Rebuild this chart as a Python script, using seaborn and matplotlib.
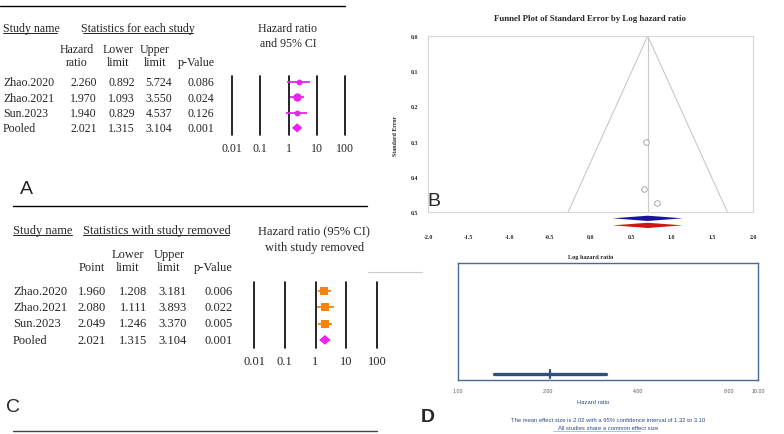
import numpy as np
import pandas as pd
import matplotlib.pyplot as plt
import seaborn as sns
from matplotlib.lines import Line2D

# ---- data ----
studies = ["Zhao.2020", "Zhao.2021", "Sun.2023", "Pooled"]
hr = [2.260, 1.970, 1.940, 2.021]
hr_lower = [0.892, 1.093, 0.829, 1.315]
hr_upper = [5.724, 3.550, 4.537, 3.104]
hr_p = [0.086, 0.024, 0.126, 0.001]

rm_point = [1.960, 2.080, 2.049, 2.021]
rm_lower = [1.208, 1.111, 1.246, 1.315]
rm_upper = [3.181, 3.893, 3.370, 3.104]
rm_p = [0.006, 0.022, 0.005, 0.001]

forest_ticks = [0.01, 0.1, 1, 10, 100]
forest_labels = ["0.01", "0.1", "1", "10", "100"]

funnel_log_hr = [0.815, 0.678, 0.663]
funnel_se = [0.474, 0.300, 0.434]
pooled_log = 0.704
pooled_log_ci = [0.274, 1.133]
funnel_xticks = [-2.0, -1.5, -1.0, -0.5, 0.0, 0.5, 1.0, 1.5, 2.0]
funnel_yticks = [0.0, 0.1, 0.2, 0.3, 0.4, 0.5]

mean_hr = 2.02
mean_ci = [1.315, 3.104]
d_ticks = [1, 2, 4, 8, 10]

MAGENTA = "#ee22ee"
ORANGE = "#f5840f"
NAVY = "#2f4f7f"

sns.set_style("white")
plt.rcParams["font.family"] = ["Liberation Serif", "DejaVu Serif"]

W, H = 784, 435
fig = plt.figure(figsize=(W / 100, H / 100), dpi=100)


def txt(x, y, s, **kw):
    kw.setdefault("va", "center")
    return fig.text(x / W, 1 - y / H, s, **kw)


def hline(x0, x1, y, **kw):
    fig.add_artist(Line2D([x0 / W, x1 / W], [1 - y / H, 1 - y / H], **kw))


def axes_px(left, top, right, bottom):
    return fig.add_axes([left / W, 1 - bottom / H, (right - left) / W, (bottom - top) / H])


def forest(ax, pts, lo, hi, color, marker, areas, row0, step, top, bottom):
    # rows: 0..n-1, map pixel geometry to row units
    ax.set_xscale("log")
    ax.set_xlim(0.01, 100)
    ax.set_ylim(3 + (bottom - row0 - 3 * step) / step, -(row0 - top) / step)
    for t in forest_ticks:
        ax.axvline(t, color="black", lw=1.2, clip_on=False)
    df = pd.DataFrame({"pt": pts[:3], "lo": lo[:3], "hi": hi[:3], "row": [0, 1, 2]})
    ax.hlines(df["row"], df["lo"], df["hi"], color=color, lw=1.3, zorder=3)
    for i, r in df.iterrows():
        sns.scatterplot(x=[r["pt"]], y=[r["row"]], ax=ax, color=color, marker=marker,
                        s=areas[i], linewidth=0, zorder=4, legend=False)
    # pooled diamond spanning its CI
    h = 0.3
    ax.fill([lo[3], pts[3], hi[3], pts[3]], [3, 3 - h, 3, 3 + h], color=MAGENTA, lw=0, zorder=4)
    ax.set_xticks(forest_ticks)
    ax.set_xticklabels(forest_labels)
    ax.minorticks_off()
    ax.set_yticks([])
    ax.tick_params(axis="x", length=0, pad=5, labelsize=9)
    for s in ax.spines.values():
        s.set_visible(False)
    ax.patch.set_alpha(0)


# ================= Panel A =================
hline(0, 345, 7, color="black", lw=1.0)
fsA = 8.6
txt(3, 29, "Study name", fontsize=fsA)
hline(3, 57, 34, color="black", lw=0.6)
txt(138, 29, "Statistics for each study", fontsize=fsA, ha="center")
hline(83, 193, 34, color="black", lw=0.6)
txt(288, 29, "Hazard ratio", fontsize=fsA, ha="center")
txt(288, 44, "and 95% CI", fontsize=fsA, ha="center")
for cx, l1, l2 in [(77, "Hazard", "ratio"), (118, "Lower", "limit"), (155, "Upper", "limit")]:
    txt(cx, 50, l1, fontsize=fsA, ha="center")
    txt(cx, 63, l2, fontsize=fsA, ha="center")
txt(196, 63, "p-Value", fontsize=fsA, ha="center")
rowsA = [83, 99, 114, 129]
for i, name in enumerate(studies):
    y = rowsA[i]
    txt(3, y, name, fontsize=fsA)
    txt(97, y, f"{hr[i]:.3f}", fontsize=fsA, ha="right")
    txt(135, y, f"{hr_lower[i]:.3f}", fontsize=fsA, ha="right")
    txt(172, y, f"{hr_upper[i]:.3f}", fontsize=fsA, ha="right")
    txt(214, y, f"{hr_p[i]:.3f}", fontsize=fsA, ha="right")
axA = axes_px(232, 77, 345, 136)
forest(axA, hr, hr_lower, hr_upper, MAGENTA, "o", [18, 36, 18], 83, 15.3, 77, 136)
axA.tick_params(axis="x", labelsize=fsA)
txt(20, 190, "A", fontsize=14, family="Liberation Sans")

# ================= Panel C =================
hline(13, 367, 207, color="black", lw=1.0)
fsC = 9
txt(13, 231, "Study name", fontsize=fsC)
hline(13, 72, 236, color="black", lw=0.6)
txt(83, 231, "Statistics with study removed", fontsize=fsC)
hline(83, 229, 236, color="black", lw=0.6)
txt(258, 231, "Hazard ratio (95% CI)", fontsize=fsC)
txt(315, 248, "with study removed", fontsize=fsC, ha="center")
txt(128, 255, "Lower", fontsize=fsC, ha="center")
txt(169, 255, "Upper", fontsize=fsC, ha="center")
txt(92, 268, "Point", fontsize=fsC, ha="center")
txt(128, 268, "limit", fontsize=fsC, ha="center")
txt(169, 268, "limit", fontsize=fsC, ha="center")
txt(213, 268, "p-Value", fontsize=fsC, ha="center")
rowsC = [292, 308, 324, 341]
for i, name in enumerate(studies):
    y = rowsC[i]
    txt(13, y, name, fontsize=fsC)
    txt(106, y, f"{rm_point[i]:.3f}", fontsize=fsC, ha="right")
    txt(147, y, f"{rm_lower[i]:.3f}", fontsize=fsC, ha="right")
    txt(187, y, f"{rm_upper[i]:.3f}", fontsize=fsC, ha="right")
    txt(233, y, f"{rm_p[i]:.3f}", fontsize=fsC, ha="right")
axC = axes_px(254, 283, 377, 349)
forest(axC, rm_point, rm_lower, rm_upper, ORANGE, "s", [30, 30, 30], 292, 16.3, 283, 349)
axC.tick_params(axis="x", labelsize=fsC)
txt(13, 408, "C", fontsize=14, family="Liberation Sans", ha="center")
hline(13, 377, 432, color="#444444", lw=1.0)
hline(368, 422, 273, color="#cccccc", lw=0.8)

# ================= Panel B (funnel) =================
axB = axes_px(428, 37, 753, 213)
axB.set_xlim(-2, 2)
axB.set_ylim(0.5, 0)
se_edge = max(funnel_yticks)
axB.plot([pooled_log - 1.96 * se_edge, pooled_log, pooled_log + 1.96 * se_edge],
         [se_edge, 0, se_edge], color="#cfc6c6", lw=0.8)
axB.axvline(pooled_log, color="#cfc6c6", lw=0.8)
sns.scatterplot(x=funnel_log_hr, y=funnel_se, ax=axB, marker="o", s=16,
                facecolor="white", edgecolor="#9a9a9a", linewidth=0.6, legend=False, zorder=3)
dh = 0.0075
for yc, col in [(0.5 + 0.018, "#1515a0"), (0.5 + 0.038, "#d01515")]:
    axB.fill([pooled_log_ci[0], pooled_log, pooled_log_ci[1], pooled_log],
             [yc, yc - dh, yc, yc + dh], color=col, lw=0, clip_on=False)
axB.set_xticks(funnel_xticks)
axB.set_xticklabels([f"{t:.1f}" for t in funnel_xticks])
axB.set_yticks(funnel_yticks)
axB.set_yticklabels([f"{t:.1f}" for t in funnel_yticks])
axB.tick_params(axis="x", direction="in", length=2.5, color="#bbbbbb", pad=16, labelsize=4.2)
axB.tick_params(axis="y", length=0, pad=7, labelsize=4.2)
for lab in axB.get_xticklabels() + axB.get_yticklabels():
    lab.set_fontweight("bold")
for s in axB.spines.values():
    s.set_color("#d6d6d6")
    s.set_linewidth(0.8)
txt(590, 19, "Funnel Plot of Standard Error by Log hazard ratio", fontsize=6.3,
    fontweight="bold", ha="center")
txt(396, 136, "Standard Error", fontsize=4.2, fontweight="bold", rotation=90, ha="center")
txt(591, 257, "Log hazard ratio", fontsize=4.5, fontweight="bold", ha="center")
txt(434, 201, "B", fontsize=14, family="Liberation Sans", ha="center")

# ================= Panel D =================
axD = axes_px(458, 264, 758, 381)
axD.set_xscale("log")
axD.set_xlim(1, 10)
axD.set_ylim(0, 1)
ci_df = pd.DataFrame({"hr": mean_ci, "y": [0.05, 0.05]})
sns.lineplot(data=ci_df, x="hr", y="y", ax=axD, color=NAVY, lw=2.4)
axD.plot([mean_hr, mean_hr], [0.015, 0.085], color=NAVY, lw=1.6)
axD.set_xticks(d_ticks)
axD.set_xticklabels([f"{t:.2f}" for t in d_ticks])
axD.minorticks_off()
axD.set_yticks([])
axD.set_xlabel("")
axD.set_ylabel("")
axD.tick_params(axis="x", length=0, pad=6, labelsize=3.8, labelcolor="#555555")
for lab in axD.get_xticklabels():
    lab.set_family("Liberation Sans")
for s in axD.spines.values():
    s.set_color("#4a6a92")
    s.set_linewidth(1.0)
dfont = dict(family="Liberation Sans", ha="center", color="#2c4c86")
txt(593, 403, "Hazard ratio", fontsize=4.2, **dfont)
txt(608, 421, "The mean effect size is 2.02 with a 95% confidence interval of 1.32 to 3.10",
    fontsize=4.2, **dfont)
txt(608, 429, "All studies share a common effect size", fontsize=4.2, **dfont)
hline(553, 640, 432, color="#7fb4e0", lw=0.5)
txt(428, 418, "D", fontsize=14, family="Liberation Sans", fontweight="bold", ha="center")

fig.savefig("out.png", dpi=100)
